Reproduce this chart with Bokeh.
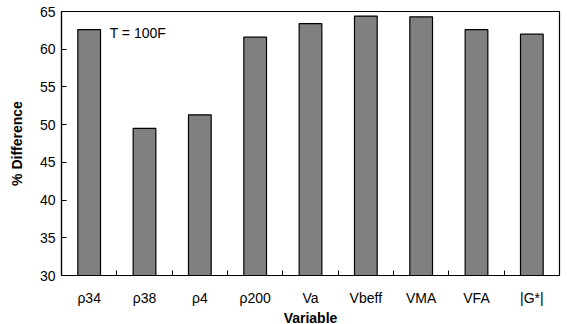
from bokeh.plotting import figure
from bokeh.models import FixedTicker, Range1d, ColumnDataSource
from bokeh.core.properties import value
from bokeh.embed import file_html
from bokeh.resources import INLINE

categories = ["ρ34", "ρ38", "ρ4", "ρ200", "Va", "Vbeff", "VMA", "VFA", "|G*|"]
values = [62.6, 49.5, 51.3, 61.6, 63.4, 64.4, 64.3, 62.6, 62.0]
y_ticks = [30, 35, 40, 45, 50, 55, 60, 65]
annotation = "T = 100F"

xs = [i + 0.5 for i in range(len(categories))]
src = ColumnDataSource(dict(x=xs, top=values, bottom=[30] * len(values)))

p = figure(width=569, height=324, output_backend="svg", toolbar_location=None,
           x_range=Range1d(0, len(categories)), y_range=Range1d(30, 65),
           frame_width=498, frame_height=264,
           min_border_left=61, min_border_right=10, min_border_top=11, min_border_bottom=49)

p.vbar(x="x", top="top", bottom="bottom", width=0.41, source=src,
       fill_color="#808080", line_color="black", line_width=1.2)

p.text(x=[0.87], y=[62.1], text=[annotation], text_baseline="middle", text_align="left",
       text_font_size="14px", text_font=value("Liberation Sans"), text_color="black")

p.xgrid.visible = False
p.ygrid.visible = False
p.outline_line_color = "black"
p.outline_line_width = 1.2
p.background_fill_color = "white"
p.border_fill_color = "white"

xa = p.xaxis[0]
xa.ticker = FixedTicker(ticks=xs, minor_ticks=list(range(1, len(categories))))
xa.major_label_overrides = {x: c for x, c in zip(xs, categories)}
xa.major_tick_in = 0
xa.major_tick_out = 0
xa.minor_tick_in = 5
xa.minor_tick_out = 0
xa.minor_tick_line_color = "black"
xa.axis_line_color = "black"
xa.axis_line_width = 1.2
xa.major_label_standoff = 14
xa.major_label_text_font = "Liberation Sans"
xa.major_label_text_font_size = "14px"
xa.major_label_text_color = "black"
xa.axis_label = "Variable"
xa.axis_label_text_font = "Liberation Sans"
xa.axis_label_text_font_size = "14px"
xa.axis_label_text_font_style = "bold"
xa.axis_label_text_color = "black"
xa.axis_label_standoff = 1

ya = p.yaxis[0]
ya.ticker = FixedTicker(ticks=y_ticks, minor_ticks=[])
ya.major_tick_in = 5
ya.major_tick_out = 0
ya.major_tick_line_color = "black"
ya.axis_line_color = "black"
ya.axis_line_width = 1.2
ya.major_label_standoff = 6
ya.major_label_text_font = "Liberation Sans"
ya.major_label_text_font_size = "14px"
ya.major_label_text_color = "black"
ya.axis_label = "% Difference"
ya.axis_label_text_font = "Liberation Sans"
ya.axis_label_text_font_size = "14px"
ya.axis_label_text_font_style = "bold"
ya.axis_label_text_color = "black"
ya.axis_label_standoff = 12

open("out.html", "w").write(file_html(p, INLINE))
